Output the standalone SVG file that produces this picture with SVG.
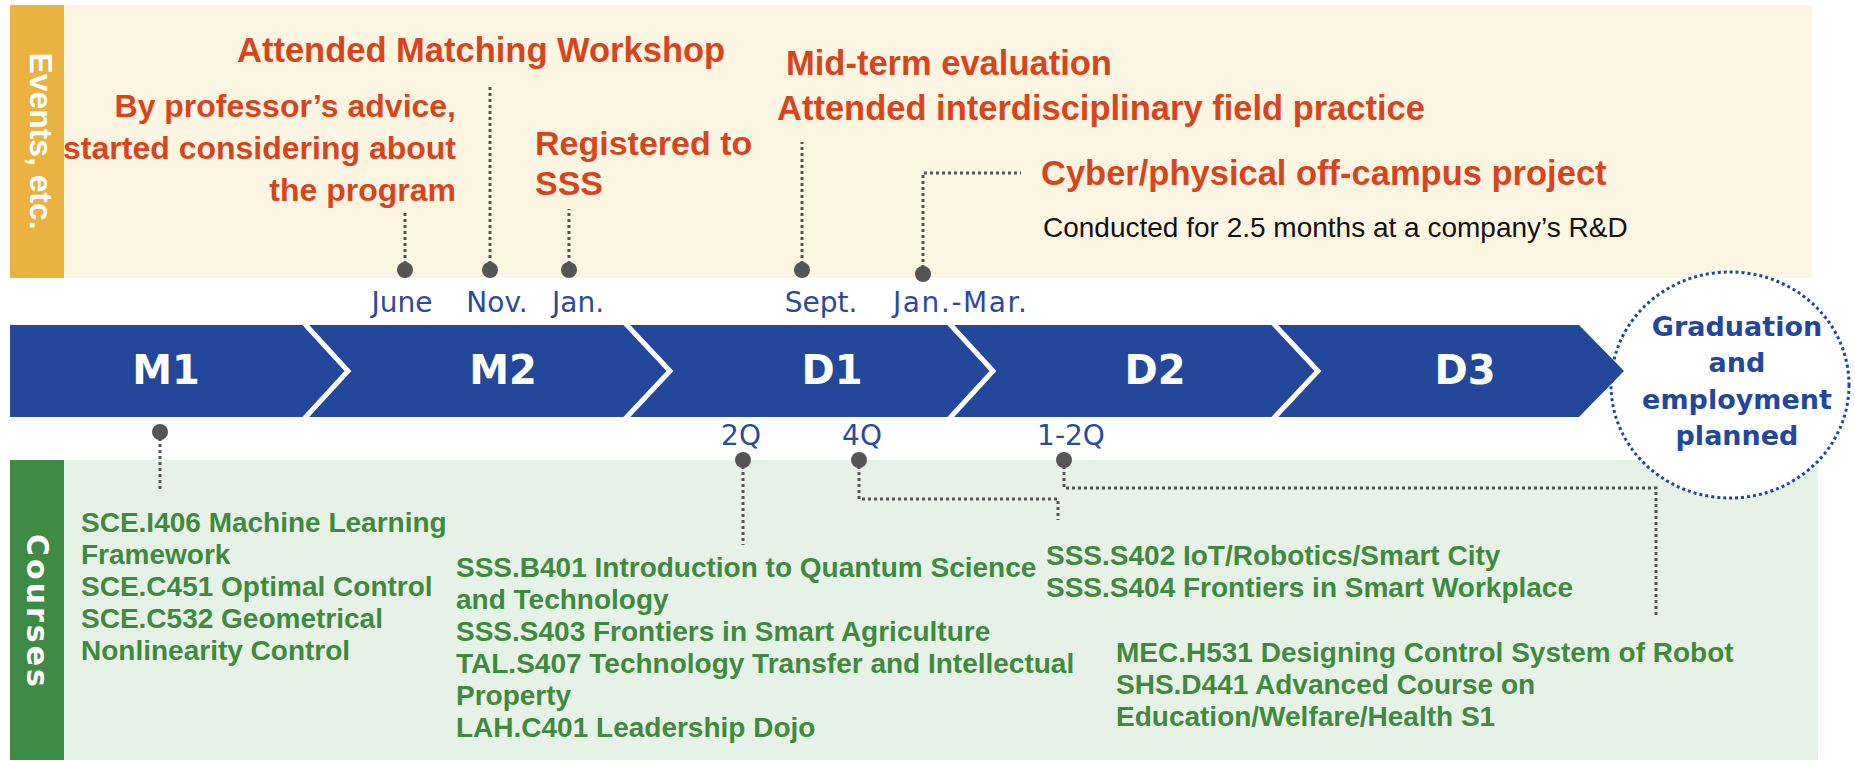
<svg xmlns="http://www.w3.org/2000/svg" width="1855" height="761" viewBox="0 0 1855 761">
<style>
.ev{font-family:"Liberation Sans",Arial,sans-serif;font-weight:bold;fill:#D6461E}
.mo{font-family:"DejaVu Sans",Verdana,sans-serif;font-size:28px;fill:#2B4A9B;text-anchor:middle}
.ph{font-family:"DejaVu Sans",Verdana,sans-serif;font-weight:bold;font-size:40px;fill:#FFFFFF;text-anchor:middle}
.co{font-family:"Liberation Sans",Arial,sans-serif;font-weight:bold;font-size:28px;fill:#3F8A3F}
.gr{font-family:"DejaVu Sans",Verdana,sans-serif;font-weight:bold;font-size:27px;fill:#23479A;text-anchor:middle}
.dot{fill:#555555}
.lead{fill:none;stroke:#555555;stroke-width:3;stroke-dasharray:3 3}
.chev{fill:none;stroke:#FFFFFF;stroke-width:5}
</style>
<rect width="1855" height="761" fill="#FFFFFF"/>
<g id="band-events">
<rect x="10" y="5" width="1802" height="273" fill="#FCF5E2"/>
<rect x="10" y="5" width="54" height="273" fill="#EAB241"/>
<text transform="translate(30,141) rotate(90)" text-anchor="middle" font-family="Liberation Sans, Arial, sans-serif" font-weight="bold" font-size="32" textLength="177" lengthAdjust="spacingAndGlyphs" fill="#FFFFFF">Events, etc.</text>
</g>
<g id="band-courses">
<rect x="10" y="460" width="1808" height="300" fill="#E7F2E6"/>
<rect x="10" y="460" width="54" height="300" fill="#3F8B45"/>
<text transform="translate(27,612) rotate(90)" text-anchor="middle" font-family="DejaVu Sans, Verdana, sans-serif" font-weight="bold" font-size="30" letter-spacing="3" fill="#FFFFFF">Courses</text>
</g>
<g id="graduation">
<ellipse cx="1730" cy="385" rx="119" ry="113" fill="#FFFFFF" stroke="#23479A" stroke-width="3" stroke-dasharray="3 3"/>
</g>
<g id="timeline">
<polygon points="10,325 1579,325 1624,371 1579,417 10,417" fill="#23479A"/>
<polyline class="chev" points="303,322 348,371 303,420"/>
<polyline class="chev" points="624,322 670,371 624,420"/>
<polyline class="chev" points="948,322 993,371 948,420"/>
<polyline class="chev" points="1272,322 1318,371 1272,420"/>
<text class="ph" x="166" y="384">M1</text>
<text class="ph" x="503" y="384">M2</text>
<text class="ph" x="832" y="384">D1</text>
<text class="ph" x="1155" y="384">D2</text>
<text class="ph" x="1465" y="384">D3</text>
</g>
<g id="graduation-label">
<text class="gr" x="1737" y="336">Graduation</text>
<text class="gr" x="1737" y="372">and</text>
<text class="gr" x="1737" y="409">employment</text>
<text class="gr" x="1737" y="445">planned</text>
</g>
<g id="connectors">
<path class="lead" d="M405,270 V210"/>
<path class="lead" d="M490,270 V87"/>
<path class="lead" d="M569,270 V209"/>
<path class="lead" d="M802,270 V142"/>
<path class="lead" d="M923,274 V173 H1021"/>
<path class="lead" d="M160,432 V489"/>
<path class="lead" d="M743,460 V545"/>
<path class="lead" d="M859,460 V499 H1058 V520"/>
<path class="lead" d="M1064,460 V488 H1656 V617"/>
<circle class="dot" cx="405" cy="270" r="8"/>
<circle class="dot" cx="490" cy="270" r="8"/>
<circle class="dot" cx="569" cy="270" r="8"/>
<circle class="dot" cx="802" cy="270" r="8"/>
<circle class="dot" cx="923" cy="274" r="8"/>
<circle class="dot" cx="160" cy="432" r="8"/>
<circle class="dot" cx="743" cy="460" r="8"/>
<circle class="dot" cx="859" cy="460" r="8"/>
<circle class="dot" cx="1064" cy="460" r="8"/>
</g>
<g id="months">
<text class="mo" x="402" y="312">June</text>
<text class="mo" x="497" y="312">Nov.</text>
<text class="mo" x="578" y="312">Jan.</text>
<text class="mo" x="821" y="312">Sept.</text>
<text class="mo" x="960" y="312" textLength="134">Jan.-Mar.</text>
<text class="mo" x="741" y="445">2Q</text>
<text class="mo" x="862" y="445">4Q</text>
<text class="mo" x="1071" y="445">1-2Q</text>
</g>
<g id="event-matching">
<text class="ev" x="237" y="62" font-size="34.5">Attended Matching Workshop</text>
</g>
<g id="event-advice">
<text class="ev" x="456" y="117" font-size="32" text-anchor="end">By professor’s advice,</text>
<text class="ev" x="456" y="159" font-size="32" text-anchor="end">started considering about</text>
<text class="ev" x="456" y="201" font-size="32" text-anchor="end">the program</text>
</g>
<g id="event-registered">
<text class="ev" x="535" y="155" font-size="34">Registered to</text>
<text class="ev" x="535" y="195" font-size="34">SSS</text>
</g>
<g id="event-midterm">
<text class="ev" x="786" y="75" font-size="34.5">Mid-term evaluation</text>
<text class="ev" x="777" y="120" font-size="34.5">Attended interdisciplinary field practice</text>
</g>
<g id="event-project">
<text class="ev" x="1041" y="185" font-size="34.5">Cyber/physical off-campus project</text>
<text x="1043" y="237" font-family="Liberation Sans, Arial, sans-serif" font-size="28" fill="#111111">Conducted for 2.5 months at a company’s R&amp;D</text>
</g>
<g id="courses-m1">
<text class="co" x="81" y="532">SCE.I406 Machine Learning</text>
<text class="co" x="81" y="564">Framework</text>
<text class="co" x="81" y="596">SCE.C451 Optimal Control</text>
<text class="co" x="81" y="628">SCE.C532 Geometrical</text>
<text class="co" x="81" y="660">Nonlinearity Control</text>
</g>
<g id="courses-2q">
<text class="co" x="456" y="577">SSS.B401 Introduction to Quantum Science</text>
<text class="co" x="456" y="609">and Technology</text>
<text class="co" x="456" y="641">SSS.S403 Frontiers in Smart Agriculture</text>
<text class="co" x="456" y="673">TAL.S407 Technology Transfer and Intellectual</text>
<text class="co" x="456" y="705">Property</text>
<text class="co" x="456" y="737">LAH.C401 Leadership Dojo</text>
</g>
<g id="courses-4q">
<text class="co" x="1046" y="565">SSS.S402 IoT/Robotics/Smart City</text>
<text class="co" x="1046" y="597">SSS.S404 Frontiers in Smart Workplace</text>
</g>
<g id="courses-12q">
<text class="co" x="1116" y="662">MEC.H531 Designing Control System of Robot</text>
<text class="co" x="1116" y="694">SHS.D441 Advanced Course on</text>
<text class="co" x="1116" y="726">Education/Welfare/Health S1</text>
</g>
</svg>
